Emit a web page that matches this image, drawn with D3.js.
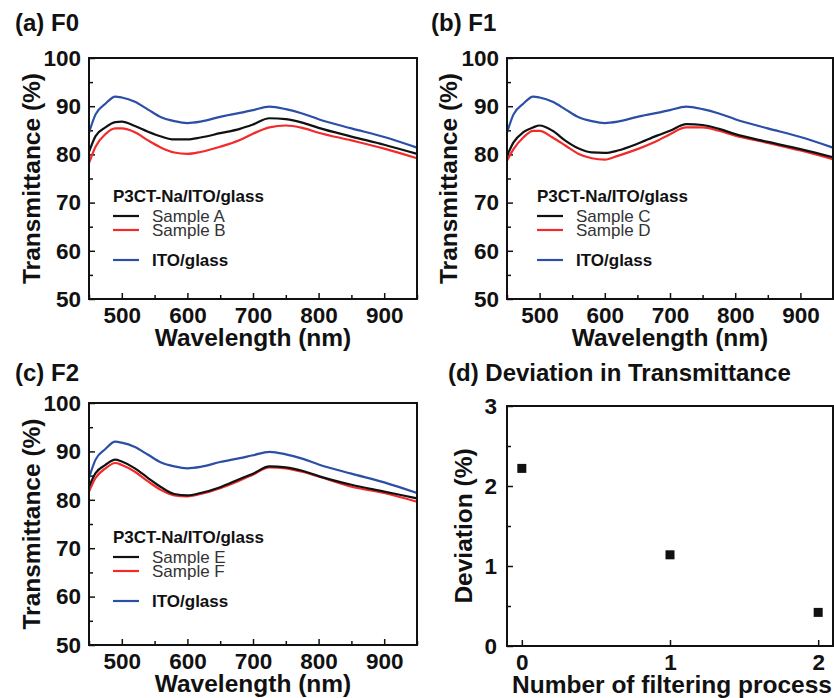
<!DOCTYPE html>
<html>
<head>
<meta charset="utf-8">
<script src="https://cdn.jsdelivr.net/npm/d3@7"></script>
<style>
body { margin: 0; background: #fff; }
text { font-family: "Liberation Sans", Arial, sans-serif; fill: #111; }
.axis path { display: none; }
.axis line { stroke: #111; stroke-width: 1.5; }
</style>
</head>
<body>
<div id="chart"></div>
<script>
// wavelength grid (nm) the curves were read on
const wavelengths = [450, 460, 475, 490, 500, 520, 540, 560, 580, 600, 620, 650, 680, 700, 725, 750, 775, 800, 850, 900, 950];

// transmittance (%)
const itoGlass = [84.5, 88.3, 90.5, 92.0, 91.8, 90.9, 89.3, 87.7, 86.9, 86.5, 86.8, 87.8, 88.6, 89.2, 89.9, 89.4, 88.5, 87.3, 85.4, 83.6, 81.4];
const sampleA = [80.5, 83.8, 85.6, 86.7, 86.8, 85.9, 84.7, 83.7, 83.1, 83.1, 83.5, 84.4, 85.3, 86.2, 87.5, 87.3, 86.6, 85.5, 83.7, 82.0, 80.1];
const sampleB = [78.2, 81.6, 84.2, 85.4, 85.4, 84.6, 82.9, 81.4, 80.4, 80.1, 80.5, 81.6, 83.0, 84.3, 85.6, 86.0, 85.5, 84.5, 82.9, 81.2, 79.2];
const sampleC = [79.7, 82.5, 84.6, 85.6, 86.0, 84.9, 82.8, 81.2, 80.4, 80.3, 80.8, 82.2, 83.9, 84.9, 86.3, 86.1, 85.3, 84.2, 82.6, 81.1, 79.4];
const sampleD = [78.7, 81.1, 83.5, 84.9, 84.9, 83.5, 81.8, 80.1, 79.2, 78.9, 79.7, 81.1, 82.8, 84.2, 85.6, 85.6, 84.9, 83.9, 82.4, 80.8, 79.0];
const sampleE = [82.7, 85.5, 87.2, 88.3, 87.9, 86.5, 84.5, 82.6, 81.2, 80.9, 81.4, 82.6, 84.3, 85.4, 86.9, 86.7, 86.0, 84.9, 83.1, 81.7, 80.3];
const sampleF = [81.7, 84.5, 86.5, 87.6, 87.2, 85.8, 83.8, 82.0, 80.9, 80.7, 81.2, 82.4, 84.0, 85.2, 86.7, 86.5, 85.8, 84.8, 82.7, 81.4, 79.6];

// panel (d)
const filterCount = [0, 1, 2];
const deviation = [2.22, 1.14, 0.42];

// tick values
const waveTicks = [500, 600, 700, 800, 900];
const waveMinor = [450, 550, 650, 750, 850, 950];
const transTicks = [50, 60, 70, 80, 90, 100];
const transMinor = [55, 65, 75, 85, 95];
const devTicks = [0, 1, 2, 3];
const devMinor = [0.5, 1.5, 2.5];

const colors = { sample1: "#111111", sample2: "#f42a2a", ito: "#2b4fa6" };

const svg = d3.select("#chart")
    .append("svg")
    .attr("width", 834)
    .attr("height", 698);

function boldText(sel, size) {
    return sel.style("font-weight", "bold").style("font-size", size);
}

function drawFrame(left, top, right, bottom) {
    svg.append("rect")
        .attr("x", left).attr("y", top)
        .attr("width", right - left).attr("height", bottom - top)
        .attr("fill", "none")
        .attr("stroke", "#111")
        .attr("stroke-width", 2);
}

function drawSpectrum(p) {
    const x = d3.scaleLinear().domain([450, 950]).range([p.left, p.right]);
    const y = d3.scaleLinear().domain([50, 100]).range([p.bottom, p.top]);

    // minor ticks (inward)
    svg.append("g").attr("class", "axis")
        .attr("transform", `translate(0,${p.bottom})`)
        .call(d3.axisBottom(x).tickValues(waveMinor).tickSizeInner(-4).tickSizeOuter(0).tickFormat(""));
    svg.append("g").attr("class", "axis")
        .attr("transform", `translate(${p.left},0)`)
        .call(d3.axisLeft(y).tickValues(transMinor).tickSizeInner(-4).tickSizeOuter(0).tickFormat(""));

    // major ticks with labels
    boldText(svg.append("g").attr("class", "axis")
        .attr("transform", `translate(0,${p.bottom})`)
        .call(d3.axisBottom(x).tickValues(waveTicks).tickSizeInner(-6).tickSizeOuter(0).tickPadding(8))
        .selectAll("text"), "22.5px");
    boldText(svg.append("g").attr("class", "axis")
        .attr("transform", `translate(${p.left},0)`)
        .call(d3.axisLeft(y).tickValues(transTicks).tickSizeInner(-6).tickSizeOuter(0).tickPadding(8))
        .selectAll("text"), "22.5px");

    const line = d3.line()
        .x((d, i) => x(wavelengths[i]))
        .y(d => y(d))
        .curve(d3.curveMonotoneX);

    [[itoGlass, colors.ito], [p.s2, colors.sample2], [p.s1, colors.sample1]].forEach(([vals, c]) => {
        svg.append("path")
            .datum(vals)
            .attr("fill", "none")
            .attr("stroke", c)
            .attr("stroke-width", 2.2)
            .attr("d", line);
    });

    drawFrame(p.left, p.top, p.right, p.bottom);

    // panel title
    boldText(svg.append("text")
        .attr("x", p.titleX).attr("y", p.titleY)
        .text(p.title), "24px");

    // axis titles
    boldText(svg.append("text")
        .attr("text-anchor", "middle")
        .attr("x", (p.left + p.right) / 2)
        .attr("y", p.bottom + 47)
        .text("Wavelength (nm)"), "24.5px");
    boldText(svg.append("text")
        .attr("text-anchor", "middle")
        .attr("transform", `translate(${p.yTitleX},${(p.top + p.bottom) / 2}) rotate(-90)`)
        .text("Transmittance (%)"), "24.5px");

    // legend
    const lg = p.legend;
    boldText(svg.append("text")
        .attr("x", lg.x).attr("y", lg.y)
        .text("P3CT-Na/ITO/glass"), "17px");
    const items = [
        { label: p.names[0], color: colors.sample1, dy: 14.5, bold: false },
        { label: p.names[1], color: colors.sample2, dy: 28.5, bold: false },
        { label: "ITO/glass", color: colors.ito, dy: 58.5, bold: true }
    ];
    items.forEach(it => {
        svg.append("line")
            .attr("x1", lg.x).attr("x2", lg.x + 26)
            .attr("y1", lg.y + it.dy).attr("y2", lg.y + it.dy)
            .attr("stroke", it.color)
            .attr("stroke-width", 2.2);
        svg.append("text")
            .attr("x", lg.x + lg.textGap).attr("y", lg.y + it.dy + 6)
            .style("font-size", "17px")
            .style("font-weight", it.bold ? "bold" : "normal")
            .style("fill", it.bold ? "#111" : "#333")
            .text(it.label);
    });
}

drawSpectrum({
    left: 89, right: 417, top: 58, bottom: 299,
    title: "(a) F0", titleX: 15, titleY: 31, yTitleX: 40,
    s1: sampleA, s2: sampleB, names: ["Sample A", "Sample B"],
    legend: { x: 113, y: 201.5, textGap: 39 }
});
drawSpectrum({
    left: 507, right: 833, top: 58, bottom: 299,
    title: "(b) F1", titleX: 431, titleY: 31, yTitleX: 457,
    s1: sampleC, s2: sampleD, names: ["Sample C", "Sample D"],
    legend: { x: 537, y: 201.5, textGap: 39 }
});
drawSpectrum({
    left: 89, right: 417, top: 403, bottom: 645,
    title: "(c) F2", titleX: 15, titleY: 381, yTitleX: 40,
    s1: sampleE, s2: sampleF, names: ["Sample E", "Sample F"],
    legend: { x: 113, y: 542.5, textGap: 39 }
});

// (d) Deviation in Transmittance
const pd = { left: 507, right: 833, top: 406, bottom: 646 };
const xd = d3.scaleLinear().domain([-0.1, 2.1]).range([pd.left, pd.right]);
const yd = d3.scaleLinear().domain([0, 3]).range([pd.bottom, pd.top]);

svg.append("g").attr("class", "axis")
    .attr("transform", `translate(${pd.left},0)`)
    .call(d3.axisLeft(yd).tickValues(devMinor).tickSizeInner(-4).tickSizeOuter(0).tickFormat(""));
boldText(svg.append("g").attr("class", "axis")
    .attr("transform", `translate(0,${pd.bottom})`)
    .call(d3.axisBottom(xd).tickValues(filterCount).tickSizeInner(-6).tickSizeOuter(0).tickPadding(8).tickFormat(d3.format("d")))
    .selectAll("text"), "22.5px");
boldText(svg.append("g").attr("class", "axis")
    .attr("transform", `translate(${pd.left},0)`)
    .call(d3.axisLeft(yd).tickValues(devTicks).tickSizeInner(-6).tickSizeOuter(0).tickPadding(10).tickFormat(d3.format("d")))
    .selectAll("text"), "22.5px");

svg.selectAll(".dev-point")
    .data(filterCount)
    .enter().append("rect")
    .attr("class", "dev-point")
    .attr("x", (d) => xd(d) - 4.5)
    .attr("y", (d, i) => yd(deviation[i]) - 4.5)
    .attr("width", 9)
    .attr("height", 9)
    .attr("fill", "#111");

drawFrame(pd.left, pd.top, pd.right, pd.bottom);

boldText(svg.append("text")
    .attr("x", 448).attr("y", 381)
    .text("(d) Deviation in Transmittance"), "24px");
boldText(svg.append("text")
    .attr("text-anchor", "middle")
    .attr("x", (pd.left + pd.right) / 2 + 2)
    .attr("y", pd.bottom + 47)
    .text("Number of filtering process"), "24.5px");
boldText(svg.append("text")
    .attr("text-anchor", "middle")
    .attr("transform", `translate(472,${(pd.top + pd.bottom) / 2}) rotate(-90)`)
    .text("Deviation (%)"), "24.5px");
</script>
</body>
</html>
